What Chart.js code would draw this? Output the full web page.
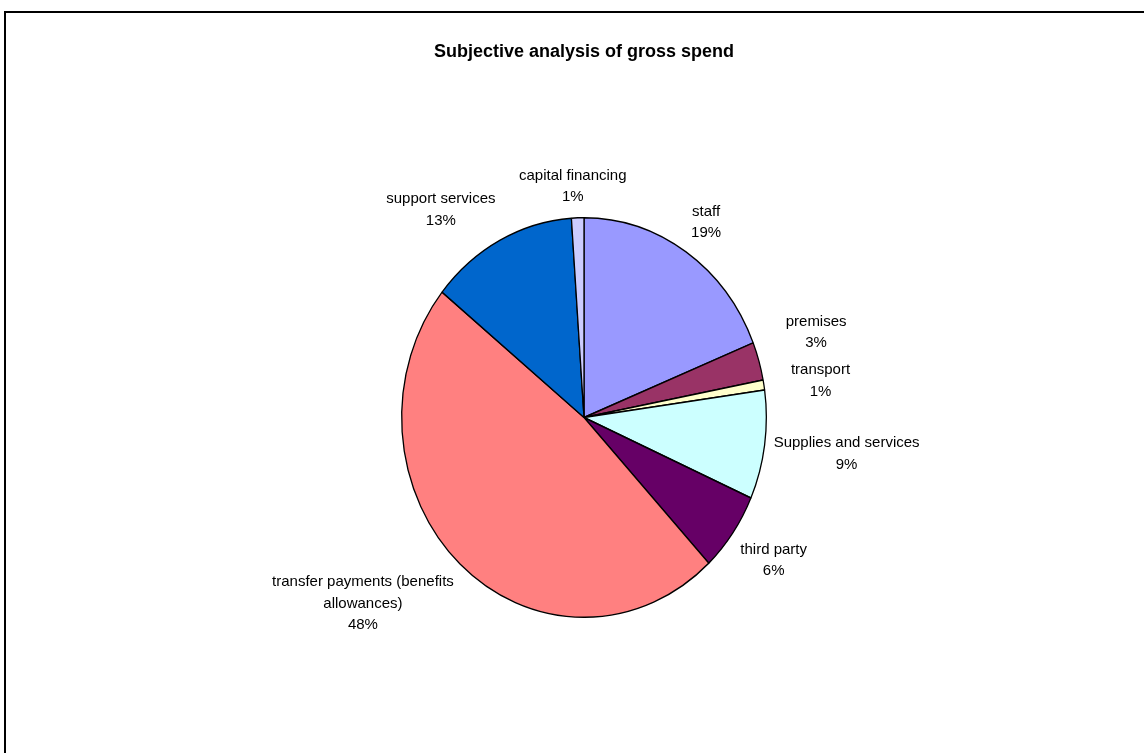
<!DOCTYPE html>
<html>
<head>
<meta charset="utf-8">
<script src="https://cdn.jsdelivr.net/npm/chart.js@4.4.0/dist/chart.umd.min.js"></script>
<style>
    html, body { margin: 0; padding: 0; background: #fff; overflow: hidden; }
    #frame {
        position: absolute; left: 4px; top: 11px; width: 1300px; height: 900px;
        border-left: 2px solid #000; border-top: 2px solid #000;
    }
    #myChart { position: absolute; left: 0; top: 0; }
</style>
</head>
<body>
<div id="frame"></div>
<canvas id="myChart" width="1144" height="753"></canvas>
<script>
const categories = [
    'staff',
    'premises',
    'transport',
    'Supplies and services',
    'third party',
    ['transfer payments (benefits', 'allowances)'],
    'support services',
    'capital financing'
];
const shares = [18.9, 3.1, 0.8, 8.8, 6.4, 47.8, 13.1, 1.1];
const colors = ['#9999FF', '#993366', '#FFFFCC', '#CCFFFF', '#660066', '#FF8080', '#0066CC', '#CCCCFF'];

// Excel squashes the pie into an ellipse, so stretch it vertically
const stretchY = 200.5 / 183;
const labelFont = '15px "Liberation Sans", Arial, sans-serif';
const lineH = 21.5;
// labels that Excel pushed apart to avoid overlap
const nudge = { 1: [18, -11], 2: [18, 6] };

const ellipse = {
    id: 'ellipse',
    beforeDatasetsDraw(chart) {
        const arc = chart.getDatasetMeta(0).data[0];
        const c = chart.ctx;
        c.save();
        c.translate(arc.x, arc.y);
        c.scale(1, stretchY);
        c.translate(-arc.x, -arc.y);
    },
    afterDatasetsDraw(chart) {
        chart.ctx.restore();
    }
};

const clamp = v => Math.max(-1, Math.min(1, v));

const outsideLabels = {
    id: 'outsideLabels',
    afterDraw(chart) {
        const c = chart.ctx;
        const total = shares.reduce((a, b) => a + b, 0);
        c.save();
        c.font = labelFont;
        c.fillStyle = '#000';
        c.textAlign = 'center';
        c.textBaseline = 'middle';
        chart.getDatasetMeta(0).data.forEach((arc, i) => {
            const lines = [].concat(categories[i]);
            lines.push(Math.round(shares[i] / total * 100) + '%');
            const mid = (arc.startAngle + arc.endAngle) / 2;
            const s = Math.cos(mid);
            const cs = -Math.sin(mid);
            const r = arc.outerRadius * 1.05;
            const ax = arc.x + r * s;
            const ay = arc.y - r * stretchY * cs;
            const hw = Math.max(...lines.map(l => c.measureText(l).width)) / 2;
            const hh = lines.length * lineH / 2;
            let x = ax + hw * clamp(2.5 * s);
            let y = ay - hh * clamp(2.5 * cs);
            if (nudge[i]) {
                x += nudge[i][0];
                y += nudge[i][1];
            }
            lines.forEach((l, j) => {
                c.fillText(l, x, y - hh + lineH / 2 + j * lineH);
            });
        });
        c.restore();
    }
};

const ctx = document.getElementById('myChart').getContext('2d');
const chart = new Chart(ctx, {
    type: 'pie',
    data: {
        labels: categories,
        datasets: [{
            data: shares,
            backgroundColor: colors,
            borderColor: '#000',
            borderWidth: 1.3
        }]
    },
    options: {
        responsive: false,
        animation: false,
        layout: {
            padding: { left: 401, right: 377, top: 0, bottom: 152.5 }
        },
        plugins: {
            legend: { display: false },
            tooltip: { enabled: false },
            title: {
                display: true,
                text: 'Subjective analysis of gross spend',
                color: '#000',
                font: { family: '"Liberation Sans", Arial, sans-serif', size: 18, weight: 'bold' },
                padding: { top: 41.5, bottom: 171.4 }
            }
        }
    },
    plugins: [ellipse, outsideLabels]
});
</script>
</body>
</html>
